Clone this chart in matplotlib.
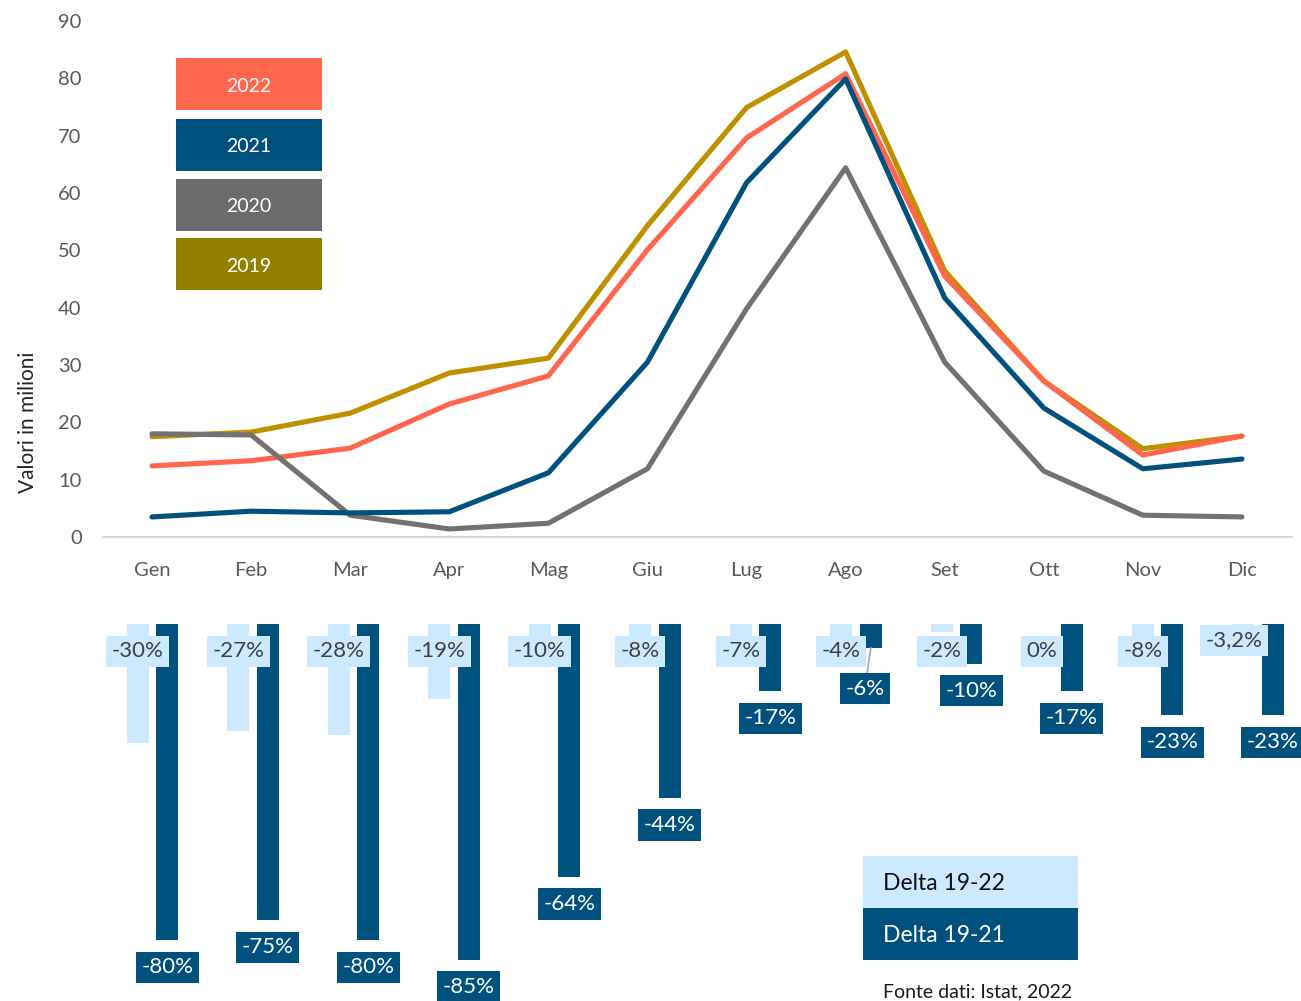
import matplotlib
matplotlib.use("Agg")
import matplotlib.pyplot as plt
from matplotlib.patches import Rectangle
import numpy as np

# ---- data -------------------------------------------------------------
months = ["Gen", "Feb", "Mar", "Apr", "Mag", "Giu", "Lug", "Ago", "Set", "Ott", "Nov", "Dic"]

v2019 = [17.5, 18.3, 21.6, 28.6, 31.2, 54.3, 74.9, 84.6, 46.4, 27.2, 15.4, 17.6]
v2020 = [18.0, 17.8, 3.8, 1.4, 2.4, 11.9, 39.8, 64.4, 30.5, 11.5, 3.8, 3.5]
v2021 = [3.5, 4.5, 4.2, 4.4, 11.2, 30.5, 61.8, 79.9, 41.7, 22.5, 11.9, 13.6]
v2022 = [12.4, 13.3, 15.5, 23.2, 28.1, 50.1, 69.6, 80.8, 45.5, 27.2, 14.3, 17.6]

delta_19_22 = [-30, -27, -28, -19, -10, -8, -7, -4, -2, 0, -8, -3.2]
delta_19_21 = [-80, -75, -80, -85, -64, -44, -17, -6, -10, -17, -23, -23]

yticks = [0, 10, 20, 30, 40, 50, 60, 70, 80, 90]

# ---- style ------------------------------------------------------------
FONT = "Lato"
plt.rcParams["font.family"] = [FONT, "DejaVu Sans"]

C2019_LINE = "#BF9000"
C2020_LINE = "#767171"
C2021 = "#00517E"
C2022 = "#FF664D"
C2019_KEY = "#937F03"
C2020_KEY = "#6B6B6B"
LIGHT = "#CCE9FF"
TICK = "#595959"

W, H = 1301, 1001
fig = plt.figure(figsize=(W / 100, H / 100), dpi=100)


def fx(px):
    return px / W


def fy(py):
    return (H - py) / H


# ---- top: monthly lines ----------------------------------------------
ax = fig.add_axes([fx(102.5), fy(537), fx(1291.5) - fx(102.5), fy(21) - fy(537)])
x = np.arange(len(months))
series = [(v2019, C2019_LINE, 1), (v2022, C2022, 2), (v2020, C2020_LINE, 3), (v2021, C2021, 4)]
for vals, col, z in series:
    ax.plot(x, vals, color=col, lw=3.7, solid_capstyle="round",
            solid_joinstyle="round", zorder=z)

ax.set_xlim(-0.5, len(months) - 0.5)
ax.set_ylim(0, 90)
ax.set_yticks(yticks)
ax.set_xticks(x)
ax.set_xticklabels(months)
ax.tick_params(axis="both", length=0, labelsize=14.5, labelcolor=TICK)
ax.tick_params(axis="y", pad=15)
ax.tick_params(axis="x", pad=18)
for s in ["top", "right", "left"]:
    ax.spines[s].set_visible(False)
ax.spines["bottom"].set_color("#D9D9D9")
ax.spines["bottom"].set_linewidth(1.5)

fig.text(fx(28), fy(422), "Valori in milioni", rotation=90, ha="center",
         va="center", fontsize=15, color="#262626")

# series key boxes
keys = [("2022", C2022, 58), ("2021", C2021, 119), ("2020", C2020_KEY, 179), ("2019", C2019_KEY, 238)]
for label, col, top in keys:
    fig.patches.append(Rectangle((fx(176), fy(top + 52)), fx(322) - fx(176),
                                 fy(top) - fy(top + 52), transform=fig.transFigure,
                                 facecolor=col, edgecolor="none"))
    fig.text(fx(249), fy(top + 28), label, ha="center", va="center",
             fontsize=14, color="white")

# ---- bottom: percentage deltas ---------------------------------------
spacing = 100.5
first = 152.5
bx = fig.add_axes([0, 0, 1, fy(624)])
bx.set_xlim(-first / spacing, (W - first) / spacing)
bx.set_ylim(-(H - 624) / 3.95, 0)
bx.axis("off")

bw = 0.219
off = 0.147
bx.bar(x - off, delta_19_22, width=bw, color=LIGHT, zorder=1)
bx.bar(x + off, delta_19_21, width=bw, color=C2021, zorder=1)


def pct(v):
    if float(v).is_integer():
        return f"{int(v)}%"
    return f"{v}%".replace(".", ",")


LBL = 16
for i, v in enumerate(delta_19_22):
    dx, dy = 0, -19.6
    if i == len(months) - 1:
        dx, dy = -6.8, -11.8
    bx.annotate(pct(v), xy=(x[i] - off, 0), xytext=(dx, dy), textcoords="offset points",
                ha="center", va="center", fontsize=LBL, color="#404040", zorder=3,
                bbox=dict(boxstyle="square,pad=0.25", fc=LIGHT, ec="none"))

for i, v in enumerate(delta_19_21):
    if months[i] == "Ago":
        bx.annotate(pct(v), xy=(x[i] + off, v), xytext=(-4.3, -29.5),
                    textcoords="offset points", ha="center", va="center",
                    fontsize=LBL, color="white", zorder=4,
                    bbox=dict(boxstyle="square,pad=0.25", fc=C2021, ec="none"),
                    arrowprops=dict(arrowstyle="-", color="#A6A6A6", lw=1.2,
                                    shrinkA=0, shrinkB=0))
    else:
        bx.annotate(pct(v), xy=(x[i] + off, v), xytext=(0, -19.6),
                    textcoords="offset points", ha="center", va="center",
                    fontsize=LBL, color="white", zorder=4,
                    bbox=dict(boxstyle="square,pad=0.25", fc=C2021, ec="none"))

# delta key
for label, fc, tc, top in [("Delta 19-22", LIGHT, "#111111", 856), ("Delta 19-21", C2021, "white", 908)]:
    fig.patches.append(Rectangle((fx(863), fy(top + 52)), fx(1078) - fx(863),
                                 fy(top) - fy(top + 52), transform=fig.transFigure,
                                 facecolor=fc, edgecolor="none"))
    fig.text(fx(883), fy(top + 27), label, ha="left", va="center",
             fontsize=16.5, color=tc)

fig.text(fx(883), fy(997), "Fonte dati: Istat, 2022", ha="left", va="baseline",
         fontsize=14, color="#1a1a1a")

fig.savefig("out.png", dpi=100)
